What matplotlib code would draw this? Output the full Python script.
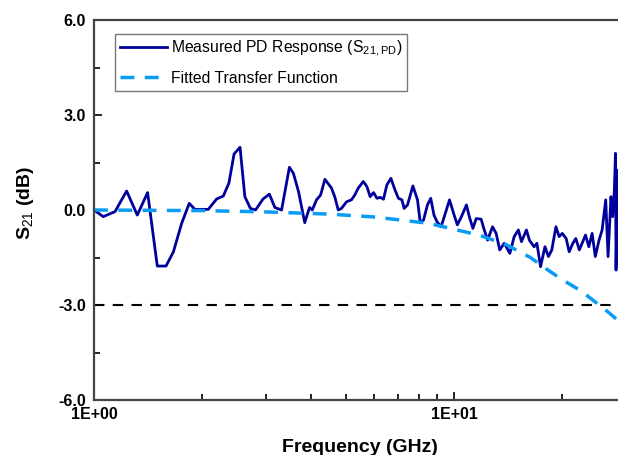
import numpy as np
import matplotlib
matplotlib.use("Agg")
import matplotlib.pyplot as plt
from matplotlib.ticker import FixedLocator, NullFormatter, MultipleLocator

plt.rcParams['font.family'] = ['Liberation Sans', 'DejaVu Sans']
plt.rcParams['mathtext.fontset'] = 'custom'
plt.rcParams['mathtext.rm'] = 'Liberation Sans'
plt.rcParams['mathtext.bf'] = 'Liberation Sans:bold'

meas_f = [1.0, 1.061, 1.144, 1.232, 1.319, 1.409, 1.499, 1.585, 1.662, 1.752,
          1.839, 1.907, 2.077, 2.192, 2.287, 2.37, 2.45, 2.545, 2.625, 2.72,
          2.81, 2.95, 3.07, 3.18, 3.32, 3.49, 3.58, 3.70, 3.85, 3.97,
          4.04, 4.15, 4.26, 4.38, 4.57, 4.67, 4.77, 4.87, 5.03, 5.19,
          5.30, 5.42, 5.60, 5.73, 5.85, 5.98, 6.11, 6.24, 6.37, 6.51,
          6.68, 6.86, 7.01, 7.17, 7.27, 7.43, 7.69, 7.92, 8.06, 8.23,
          8.44, 8.62, 8.80, 8.97, 9.21, 9.46, 9.72, 9.98, 10.22, 10.49,
          10.83, 11.05, 11.29, 11.53, 11.90, 12.1, 12.4, 12.8, 13.1, 13.4,
          13.8, 14.3, 14.7, 15.1, 15.4, 15.9, 16.2, 16.7, 17.0, 17.4,
          17.9, 18.3, 18.7, 19.2, 19.6, 20.0, 20.5, 20.9, 21.4, 21.8,
          22.3, 22.7, 23.2, 23.7, 24.2, 24.7, 25.3, 25.8, 26.4, 26.8,
          27.3, 27.6, 27.9, 28.1, 28.2, 28.5, 28.6]
meas_db = [0.0, -0.21, -0.05, 0.6, -0.16, 0.55, -1.77, -1.77, -1.32, -0.42,
           0.21, 0.02, 0.02, 0.35, 0.44, 0.85, 1.77, 1.98, 0.42, 0.05,
           0.0, 0.35, 0.5, 0.08, 0.0, 1.35, 1.16, 0.58, -0.4, 0.08,
           0.0, 0.32, 0.47, 0.97, 0.69, 0.40, 0.0, 0.05, 0.26, 0.32,
           0.47, 0.69, 0.9, 0.74, 0.42, 0.55, 0.37, 0.4, 0.34, 0.79,
           1.0, 0.63, 0.37, 0.32, 0.05, 0.16, 0.76, 0.32, -0.40, -0.32,
           0.16, 0.37, -0.16, -0.37, -0.53, -0.11, 0.32, -0.11, -0.47, -0.21,
           0.16, -0.24, -0.58, -0.27, -0.29, -0.58, -0.95, -0.53, -0.74, -1.26,
           -1.05, -1.37, -0.84, -0.63, -1.0, -0.63, -0.95, -1.16, -1.05, -1.79,
           -1.16, -1.47, -1.26, -0.53, -0.84, -0.74, -0.9, -1.32, -1.05, -0.9,
           -1.26, -1.05, -0.79, -1.16, -0.74, -1.47, -0.95, -0.63, 0.32, -1.47,
           0.42, -0.21, 0.63, 1.79, -1.9, 1.26, -1.68]

# fitted transfer function
fit_f = [1.0, 2.0, 3.0, 4.5, 6.0, 8.5, 11.8, 14.0, 16.3, 18.0,
         20.0, 22.5, 25.0, 27.0, 28.6, 30.0]
fit_db = [0.0, -0.02, -0.06, -0.13, -0.22, -0.42, -0.8, -1.1, -1.5, -1.85,
          -2.2, -2.55, -2.95, -3.25, -3.5, -3.75]

ref_level = -3.0

fig = plt.figure(figsize=(6.18, 4.55), dpi=100)
ax = fig.add_axes([94 / 618, 55 / 455, 531.7 / 618, 380 / 455])

ax.plot(meas_f, meas_db, color='#00009C', lw=2.0,
        label=r'Measured PD Response (S$_{\mathrm{21,PD}}$)')
ax.plot(fit_f, fit_db, color='#0A9CF5', lw=2.5, ls=(0, (4, 3)),
        label='Fitted Transfer Function')
ax.axhline(ref_level, color='black', lw=1.5, ls=(0, (5, 4)))

ax.set_xscale('log')
ax.set_xlim(1, 30)
ax.set_ylim(-6, 6)

ax.xaxis.set_major_locator(FixedLocator([1, 10]))
ax.xaxis.set_minor_locator(FixedLocator([2, 3, 4, 5, 6, 7, 8, 9, 20]))
ax.xaxis.set_minor_formatter(NullFormatter())
ax.set_xticklabels(['1E+00', '1E+01'])
ax.set_yticks([-6, -3, 0, 3, 6])
ax.yaxis.set_minor_locator(MultipleLocator(1.5))
ax.set_yticklabels(['-6.0', '-3.0', '0.0', '3.0', '6.0'])

ax.tick_params(which='both', direction='in', width=1.2, labelsize=11.5)
ax.tick_params(axis='x', pad=5)
ax.tick_params(axis='y', pad=6)
ax.tick_params(which='major', length=6)
ax.tick_params(which='minor', length=4)
for lbl in ax.get_xticklabels() + ax.get_yticklabels():
    lbl.set_fontweight('bold')
for s in ax.spines.values():
    s.set_linewidth(1.6)
    s.set_color('#444444')
ax.spines['right'].set_visible(False)

ax.set_xlabel('Frequency (GHz)', fontsize=14, fontweight='bold', labelpad=12)
ax.set_ylabel(r'S$_{\mathrm{21}}$ (dB)', fontsize=14, fontweight='bold')
ax.yaxis.set_label_coords(-0.11, 0.52)

leg = ax.legend(loc='upper left', bbox_to_anchor=(0.0395, 0.963), borderaxespad=0,
                fontsize=11.3, handlelength=3.0, handletextpad=0.25, borderpad=0.3,
                labelspacing=0.75, fancybox=False, framealpha=1)
leg.get_frame().set_edgecolor('#777777')
leg.get_frame().set_linewidth(1.0)

fig.savefig('out.png', dpi=100)
